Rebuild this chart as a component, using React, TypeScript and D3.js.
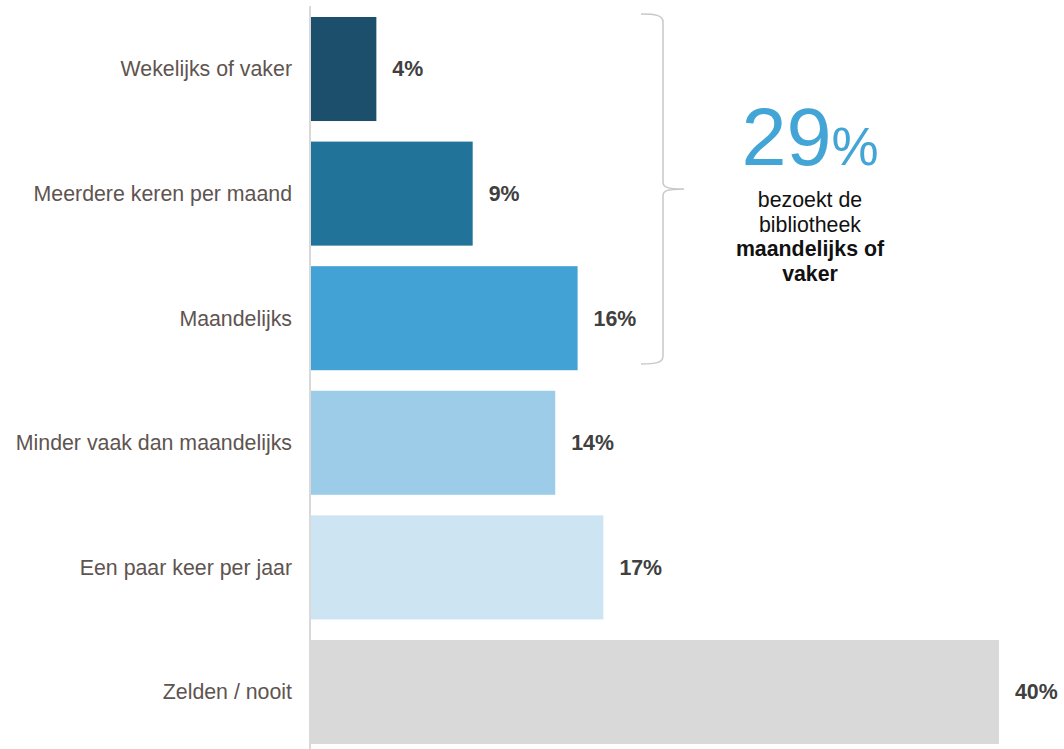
import React from "react";
import * as d3 from "d3";

const categories = [
  "Wekelijks of vaker",
  "Meerdere keren per maand",
  "Maandelijks",
  "Minder vaak dan maandelijks",
  "Een paar keer per jaar",
  "Zelden / nooit",
];
const values = [3.8, 9.4, 15.5, 14.2, 17, 40];
const barColors = ["#1b4f6b", "#227399", "#42a2d5", "#9ccce8", "#cde5f3", "#d9d9d9"];
const calloutValue = "29";
const calloutLines = ["bezoekt de", "bibliotheek"];
const calloutBoldLines = ["maandelijks of", "vaker"];

const W = 1064;
const H = 749;
const FONT = "'Liberation Sans', Arial, Helvetica, sans-serif";

export default function App() {
  const x = d3.scaleLinear().domain([0, 40]).range([311, 999]);
  const y = d3
    .scaleBand<string>()
    .domain(categories)
    .range([17, 744])
    .paddingInner(0.165)
    .paddingOuter(0);

  const bw = y.bandwidth();

  // brace spanning first three bars
  const top = 14;
  const bottom = 364;
  const mid = 189;
  const sx = 663;
  const lx = 641;
  const tip = 684;
  const brace = d3.path();
  brace.moveTo(lx, top);
  brace.bezierCurveTo(655, top, sx, top + 1, sx, top + 8);
  brace.lineTo(sx, mid - 7);
  brace.bezierCurveTo(sx, mid - 2, sx + 3, mid, tip, mid);
  brace.moveTo(tip, mid);
  brace.bezierCurveTo(sx + 3, mid, sx, mid + 2, sx, mid + 7);
  brace.lineTo(sx, bottom - 8);
  brace.bezierCurveTo(sx, bottom - 1, 655, bottom, lx, bottom);

  const cx = 810;

  return (
    <svg
      width={W}
      height={H}
      style={{ position: "absolute", left: 0, top: 0, display: "block", background: "#fff" }}
      fontFamily={FONT}
    >
      <line x1={310} x2={310} y1={6} y2={H} stroke="#d9d9d9" strokeWidth={2} />
      {categories.map((c, i) => {
        const yy = y(c)!;
        return (
          <g key={c}>
            <rect x={x(0)} y={yy} width={x(values[i]) - x(0)} height={bw} fill={barColors[i]} />
            <text
              x={292}
              y={yy + bw / 2}
              dy="0.35em"
              textAnchor="end"
              fontSize={21.33}
              fill="#5e5450"
            >
              {c}
            </text>
            <text
              x={x(values[i]) + 16}
              y={yy + bw / 2}
              dy="0.35em"
              fontSize={21.33}
              fontWeight="bold"
              fill="#404040"
            >
              {Math.round(values[i]) + "%"}
            </text>
          </g>
        );
      })}
      <path d={brace.toString()} fill="none" stroke="#c8c8c8" strokeWidth={1.5} />
      <text x={cx} y={165} textAnchor="middle" fill="#42a5d5">
        <tspan fontSize={81}>{calloutValue}</tspan>
        <tspan fontSize={53}>%</tspan>
      </text>
      {calloutLines.map((t, i) => (
        <text key={t} x={cx} y={207 + i * 24.5} textAnchor="middle" fontSize={21.33} fill="#111">
          {t}
        </text>
      ))}
      {calloutBoldLines.map((t, i) => (
        <text
          key={t}
          x={cx}
          y={207 + (i + 2) * 24.5}
          textAnchor="middle"
          fontSize={21.33}
          fontWeight="bold"
          fill="#111"
        >
          {t}
        </text>
      ))}
    </svg>
  );
}
